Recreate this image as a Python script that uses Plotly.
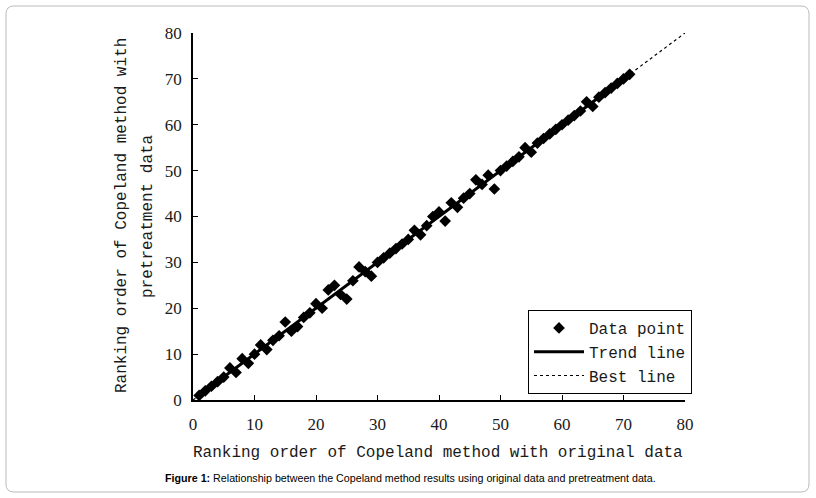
import numpy as np
import plotly.graph_objects as go

# ---- data ----
original_rank = list(range(1, 72))
pretreat_rank = [1, 2, 3, 4, 5, 7, 6, 9, 8, 10,
                 12, 11, 13, 14, 17, 15, 16, 18, 19, 21,
                 20, 24, 25, 23, 22, 26, 29, 28, 27, 30,
                 31, 32, 33, 34, 35, 37, 36, 38, 40, 41,
                 39, 43, 42, 44, 45, 48, 47, 49, 46, 50,
                 51, 52, 53, 55, 54, 56, 57, 58, 59, 60,
                 61, 62, 63, 65, 64, 66, 67, 68, 69, 70, 71]
best_x = [0, 80]
best_y = [0, 80]
tick_vals = [0, 10, 20, 30, 40, 50, 60, 70, 80]

W, H = 816, 498
L, R, T, B = 193, 685, 33, 400


def px(x):
    return (x - L) / (R - L)


def py(y):
    return (B - y) / (B - T)


slope, intercept = np.polyfit(original_rank, pretreat_rank, 1)
tx = np.array([min(original_rank), max(original_rank)], dtype=float)
ty = slope * tx + intercept

mono = "Liberation Mono"
serif = "Liberation Serif"
txtcol = "#1a1a1a"

fig = go.Figure()
fig.add_trace(go.Scatter(x=best_x, y=best_y, mode="lines", name="Best line",
                         line=dict(color="black", width=1.2, dash="dot"),
                         legendrank=3))
fig.add_trace(go.Scatter(x=tx, y=ty, mode="lines", name="Trend line",
                         line=dict(color="black", width=3),
                         legendrank=2))
fig.add_trace(go.Scatter(x=original_rank, y=pretreat_rank, mode="markers",
                         name="Data point",
                         marker=dict(symbol="diamond", size=9, color="black"),
                         legendrank=1))

axis_common = dict(range=[0, 80], tickvals=tick_vals, ticks="inside",
                   ticklen=5, tickcolor="black", tickwidth=1,
                   showline=True, linecolor="black", linewidth=1.5,
                   showgrid=False, zeroline=False,
                   tickfont=dict(family=serif, size=17, color=txtcol))

fig.update_xaxes(**axis_common, ticklabelstandoff=8)
fig.update_yaxes(**axis_common, ticklabelstandoff=6)

r = 8
x0, y0, x1, y1 = px(6), py(6), px(809), py(492)
rx = r / (R - L)
ry = r / (B - T)
path = (f"M {x0+rx},{y0} L {x1-rx},{y0} Q {x1},{y0} {x1},{y0-ry} "
        f"L {x1},{y1+ry} Q {x1},{y1} {x1-rx},{y1} L {x0+rx},{y1} "
        f"Q {x0},{y1} {x0},{y1+ry} L {x0},{y0-ry} Q {x0},{y0} {x0+rx},{y0} Z")

fig.update_layout(
    width=W, height=H,
    margin=dict(l=L, r=W - R, t=T, b=H - B),
    paper_bgcolor="white", plot_bgcolor="white",
    showlegend=True,
    legend=dict(x=px(528), y=py(310), xanchor="left", yanchor="top",
                bgcolor="white", bordercolor="black", borderwidth=1,
                font=dict(family=mono, size=16, color=txtcol),
                tracegroupgap=0, itemwidth=50),
    shapes=[dict(type="path", xref="paper", yref="paper", path=path,
                 line=dict(color="#bbbbbb", width=1), layer="below")],
    annotations=[
        dict(text="Ranking order of Copeland method with original data",
             xref="paper", yref="paper", x=px(438), y=py(453),
             xanchor="center", yanchor="middle", showarrow=False,
             font=dict(family=mono, size=16, color=txtcol)),
        dict(text="Ranking order of Copeland method with",
             xref="paper", yref="paper", x=px(122), y=py(216),
             xanchor="center", yanchor="middle", showarrow=False, textangle=-90,
             font=dict(family=mono, size=16, color=txtcol)),
        dict(text="pretreatment data",
             xref="paper", yref="paper", x=px(148), y=py(216),
             xanchor="center", yanchor="middle", showarrow=False, textangle=-90,
             font=dict(family=mono, size=16, color=txtcol)),
        dict(text="<b>Figure 1:</b> Relationship between the Copeland method results using original data and pretreatment data.",
             xref="paper", yref="paper", x=px(163), y=py(478),
             xanchor="left", yanchor="middle", showarrow=False,
             font=dict(family="Liberation Sans", size=10.7, color="black")),
    ],
)

fig.write_html("out.html", config={"displayModeBar": False},
               post_script="document.body.style.margin='0';document.body.style.padding='0';")
